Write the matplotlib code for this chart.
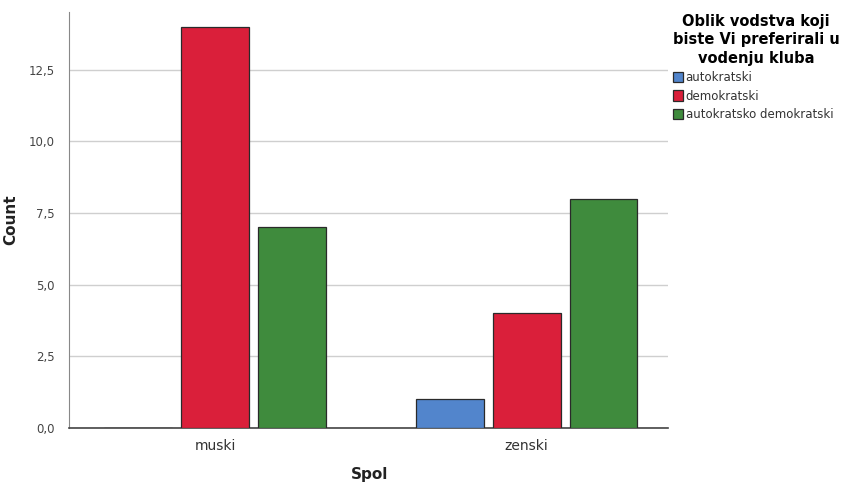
import matplotlib
matplotlib.use("Agg")
import matplotlib.pyplot as plt
import numpy as np
from matplotlib.ticker import FuncFormatter

categories = ["muski", "zenski"]
series_names = ["autokratski", "demokratski", "autokratsko demokratski"]
autokratski = [0, 1]
demokratski = [14, 4]
autokr_demokr = [7, 8]
yticks = [0, 2.5, 5, 7.5, 10, 12.5]

colors = ["#5285CC", "#DA1F3A", "#3F8B3D"]

fig = plt.figure(figsize=(8.43, 4.88), dpi=100)
ax = fig.add_axes([69/843, 1-428/488, (668-69)/843, (428-12)/488])

x = np.arange(len(categories))
w = 0.218
off = 0.247
for i, (vals, c, name) in enumerate(zip([autokratski, demokratski, autokr_demokr], colors, series_names)):
    ax.bar(x + (i-1)*off, vals, width=w, color=c, edgecolor="#2a2a2a", linewidth=0.9, label=name, zorder=3)

ax.set_xlim(-0.469, 1.454)
ax.set_ylim(0, 14.52)
ax.set_yticks(yticks)
ax.yaxis.set_major_formatter(FuncFormatter(lambda v, p: f"{v:.1f}".replace(".", ",")))
ax.set_xticks(x)
ax.set_xticklabels(categories, fontsize=10, color="#333333")
ax.tick_params(axis="y", labelsize=8.5, colors="#444444", length=0, pad=10)
ax.tick_params(axis="x", length=0, pad=8)
ax.grid(axis="y", color="#cfcfcf", linewidth=1.0, zorder=0)
for s in ["top", "right"]:
    ax.spines[s].set_visible(False)
ax.spines["left"].set_color("#888888")
ax.spines["bottom"].set_color("#444444")
ax.spines["bottom"].set_linewidth(1.2)

ax.set_ylabel("Count", fontsize=11, fontweight="bold", color="#222222")
ax.yaxis.set_label_coords((18-69)/599, 0.5)
ax.set_xlabel("Spol", fontsize=11, fontweight="bold", color="#222222")
ax.xaxis.set_label_coords(0.5 + (370-368.5)/599, (428-467)/416)

leg = fig.legend(loc="upper left", bbox_to_anchor=(668/843, 1-9/488),
                 title="Oblik vodstva koji\nbiste Vi preferirali u\nvodenju kluba",
                 frameon=False, fontsize=8.5, handlelength=0.9, handleheight=1.0,
                 handletextpad=0.2, labelspacing=0.45, borderaxespad=0)
leg.get_title().set_fontweight("bold")
leg.get_title().set_fontsize(10.5)
leg.get_title().set_multialignment("center")
leg.get_title().set_linespacing(1.3)
for t in leg.get_texts():
    t.set_color("#333333")
leg._legend_box.align = "left"

fig.savefig("out.png", dpi=100)
